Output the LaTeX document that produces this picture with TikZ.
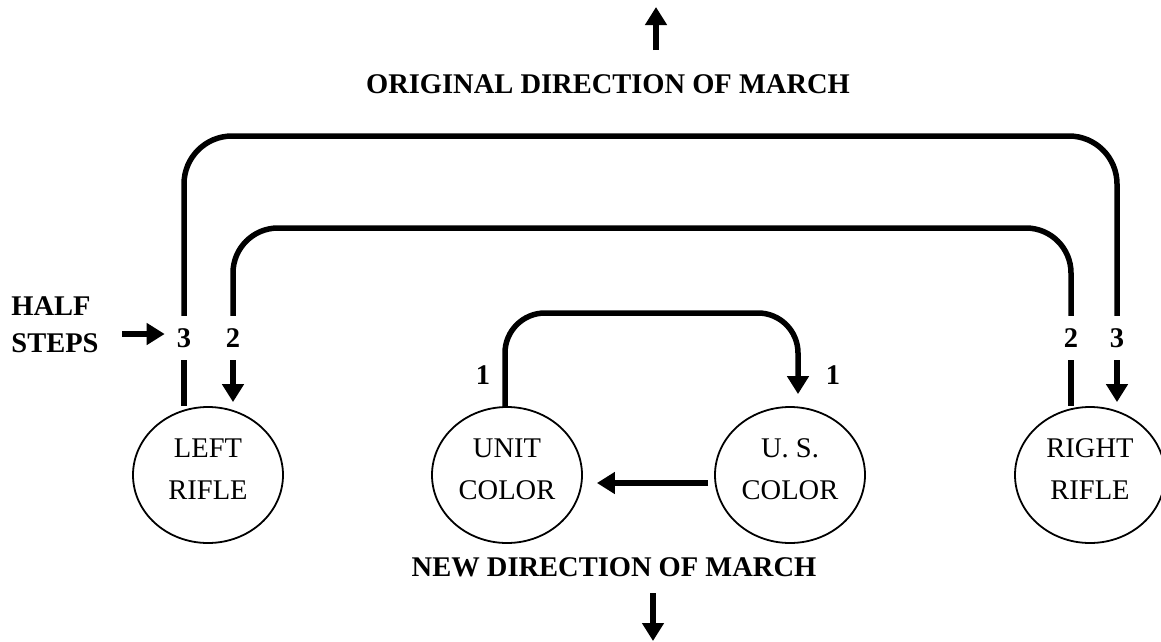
\documentclass[tikz,border=0pt]{standalone}
\usepackage{fontspec}
\setmainfont{Liberation Serif}
\usetikzlibrary{arrows.meta,shapes.geometric}

\begin{document}
\begin{tikzpicture}[x=1pt,y=-1pt,>={Triangle[length=18pt,width=21pt]},
	march/.style={line width=5.5pt},
	guard/.style={draw,ellipse,line width=1.8pt,minimum width=150pt,minimum height=136pt,align=center,text depth=12pt,font=\fontsize{28.5}{42}\selectfont},
	lbl/.style={font=\fontsize{28.5}{37}\selectfont\bfseries},
	num/.style={lbl,inner sep=0pt,minimum height=44pt}]
		\useasboundingbox (0,0) rectangle (1161,641);
		\node[lbl] (orig) at (608,84) {ORIGINAL DIRECTION OF MARCH};
		\node[lbl] (new) at (614,567) {NEW DIRECTION OF MARCH};
		\coordinate (upbase) at (656,50);
		\coordinate (uptip) at (656,7);
		\coordinate (dnbase) at (653,593);
		\coordinate (dntip) at (653,641);
		\draw[march,->] (upbase) -- (uptip);
		\draw[march,->] (dnbase) -- (dntip);
		\node[guard] (lrifle) at (208,475) {LEFT\\RIFLE};
		\node[guard] (unitcolor) at (507,475) {UNIT\\COLOR};
		\node[guard] (uscolor) at (790,475) {U. S.\\COLOR};
		\node[guard] (rrifle) at (1090,475) {RIGHT\\RIFLE};
		\node[lbl,align=left] (half) at (55,325) {HALF\\STEPS};
		\node[num] (l3) at (184,338) {3};
		\node[num] (l2) at (233,338) {2};
		\node[num] (r2) at (1071,338) {2};
		\node[num] (r3) at (1117,338) {3};
		\node[lbl] (u1) at (483,375) {1};
		\node[lbl] (s1) at (833,375) {1};
		\coordinate (halfin) at (122,334);
		\draw[march,->,shorten >=12pt] (halfin) -- (halfin -| l3.west);
		% outer wheel, three half steps
		\coordinate (outl) at (184,136);
		\draw[march,rounded corners=48pt] (l3.north) -- (outl) -- (outl -| r3) -- (r3.north);
		\draw[march] (l3.south) -- (l3.south |- lrifle.north);
		\draw[march,->,shorten >=4pt] (r3.south) -- (r3.south |- rrifle.north);
		% inner wheel, two half steps
		\coordinate (innl) at (233,228);
		\draw[march,rounded corners=45pt] (l2.north) -- (innl) -- (innl -| r2) -- (r2.north);
		\draw[march,->,shorten >=4pt] (l2.south) -- (l2.south |- lrifle.north);
		\draw[march] (r2.south) -- (r2.south |- rrifle.north);
		% colors, one half step
		\coordinate (colt) at (505,313);
		\coordinate (colr) at (798,313);
		\draw[march,->,rounded corners=40pt,shorten >=12pt] (colt |- unitcolor.north) -- (colt) -- (colr) -- (colr |- uscolor.north);
		\draw[march,->,shorten >=14pt] ([xshift=-6pt,yshift=-8pt]uscolor.west) -- ([yshift=-8pt]unitcolor.east);
\end{tikzpicture}
\end{document}
